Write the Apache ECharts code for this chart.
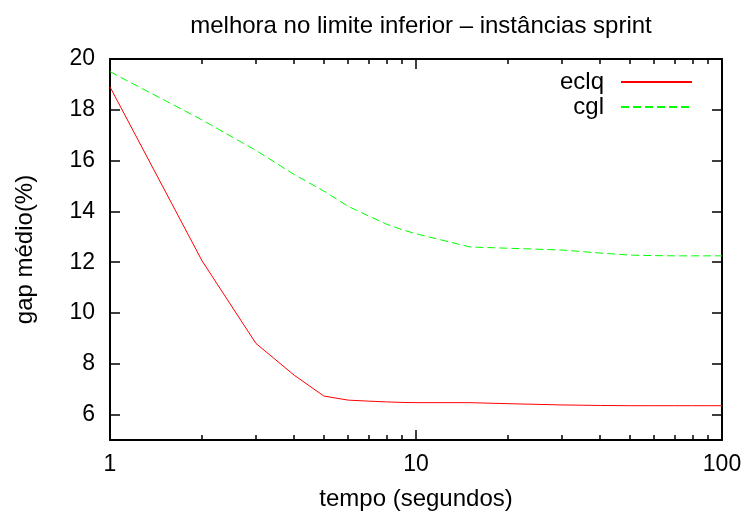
<!DOCTYPE html>
<html>
<head>
<meta charset="utf-8">
<script src="https://cdn.jsdelivr.net/npm/echarts@6/dist/echarts.min.js"></script>
<style>
  html, body { margin: 0; padding: 0; background: #fff; }
  #chart { width: 748px; height: 516px; }
</style>
</head>
<body>
<div id="chart"></div>
<script>
// tempo (segundos)
const tempo = [1, 2, 3, 4, 5, 6, 7, 8, 9, 10, 15, 20, 30, 40, 50, 60, 70, 80, 90, 100]
// gap médio (%)
const eclq = [18.9, 12.05, 8.8, 7.55, 6.73, 6.57, 6.53, 6.5, 6.48, 6.47, 6.47, 6.43, 6.38, 6.36, 6.35, 6.35, 6.35, 6.35, 6.35, 6.35]
const cgl = [19.5, 17.6, 16.4, 15.45, 14.8, 14.2, 13.82, 13.5, 13.28, 13.12, 12.6, 12.55, 12.48, 12.36, 12.28, 12.26, 12.25, 12.25, 12.25, 12.25]
const xMajor = [1, 10, 100]
const xMinor = [2, 3, 4, 5, 6, 7, 8, 9, 20, 30, 40, 50, 60, 70, 80, 90]
const yTicks = [6, 8, 10, 12, 14, 16, 18, 20]

const font = 'Liberation Sans, Arial, sans-serif'
const black = '#000'
const textSize = 24
const tickSize = 23

const chart = echarts.init(document.getElementById('chart'), null, { renderer: 'canvas' })

// eixo x log, com ticks menores e espelho no topo
const xAxisBase = {
  type: 'log',
  logBase: 10,
  min: 1,
  max: 100,
  splitLine: { show: false },
  axisLine: { show: true, lineStyle: { color: black, width: 2 } }
}

const legendBase = {
  right: 55,
  padding: 0,
  align: 'right',
  itemWidth: 71,
  itemHeight: 10,
  itemStyle: { opacity: 0 },
  textStyle: { fontFamily: font, fontSize: textSize, color: black, lineHeight: 24, padding: [0, 12, 0, 0] }
}

chart.setOption({
  animation: false,
  title: {
    text: 'melhora no limite inferior – instâncias sprint',
    left: 416,
    top: 9,
    textAlign: 'center',
    textStyle: { fontFamily: font, fontSize: textSize, fontWeight: 'normal', color: black }
  },
  legend: [
    Object.assign({}, legendBase, { data: ['eclq'], top: 70 }),
    Object.assign({}, legendBase, { data: ['cgl'], top: 95 })
  ],
  grid: { left: 110, right: 26, top: 59, bottom: 76 },
  xAxis: [
    Object.assign({}, xAxisBase, {
      position: 'bottom',
      name: 'tempo (segundos)',
      nameLocation: 'middle',
      nameGap: 47,
      nameTextStyle: { fontFamily: font, fontSize: textSize, color: black },
      axisTick: { show: true, inside: true, length: 10, customValues: xMajor, lineStyle: { color: black, width: 1.5 } },
      axisLabel: { customValues: xMajor, margin: 13, fontFamily: font, fontSize: tickSize, color: black }
    }),
    Object.assign({}, xAxisBase, {
      position: 'bottom',
      axisLine: { show: false },
      axisTick: { show: true, inside: true, length: 5, customValues: xMinor, lineStyle: { color: black, width: 1.5 } },
      axisLabel: { show: false }
    }),
    Object.assign({}, xAxisBase, {
      position: 'top',
      axisTick: { show: true, inside: true, length: 10, customValues: xMajor, lineStyle: { color: black, width: 1.5 } },
      axisLabel: { show: false }
    }),
    Object.assign({}, xAxisBase, {
      position: 'top',
      axisLine: { show: false },
      axisTick: { show: true, inside: true, length: 5, customValues: xMinor, lineStyle: { color: black, width: 1.5 } },
      axisLabel: { show: false }
    })
  ],
  yAxis: [
    {
      type: 'value',
      position: 'left',
      min: 5,
      max: 20,
      name: 'gap médio(%)',
      nameLocation: 'middle',
      nameGap: 73,
      nameTextStyle: { fontFamily: font, fontSize: textSize, color: black },
      splitLine: { show: false },
      axisLine: { show: true, lineStyle: { color: black, width: 2 } },
      axisTick: { show: true, inside: true, length: 10, customValues: yTicks, lineStyle: { color: black, width: 1.5 } },
      axisLabel: { customValues: yTicks, margin: 15, fontFamily: font, fontSize: tickSize, color: black }
    },
    {
      type: 'value',
      position: 'right',
      min: 5,
      max: 20,
      splitLine: { show: false },
      axisLine: { show: true, lineStyle: { color: black, width: 2 } },
      axisTick: { show: true, inside: true, length: 10, customValues: yTicks, lineStyle: { color: black, width: 1.5 } },
      axisLabel: { show: false }
    }
  ],
  series: [
    {
      name: 'eclq',
      type: 'line',
      xAxisIndex: 0,
      yAxisIndex: 0,
      symbol: 'none',
      lineStyle: { color: '#ff0000', width: 1 },
      itemStyle: { color: '#ff0000' },
      data: tempo.map((t, i) => [t, eclq[i]])
    },
    {
      name: 'cgl',
      type: 'line',
      xAxisIndex: 0,
      yAxisIndex: 0,
      symbol: 'none',
      lineStyle: { color: '#00ff00', width: 1, type: [8, 4] },
      itemStyle: { color: '#00ff00' },
      data: tempo.map((t, i) => [t, cgl[i]])
    }
  ]
})
</script>
</body>
</html>
